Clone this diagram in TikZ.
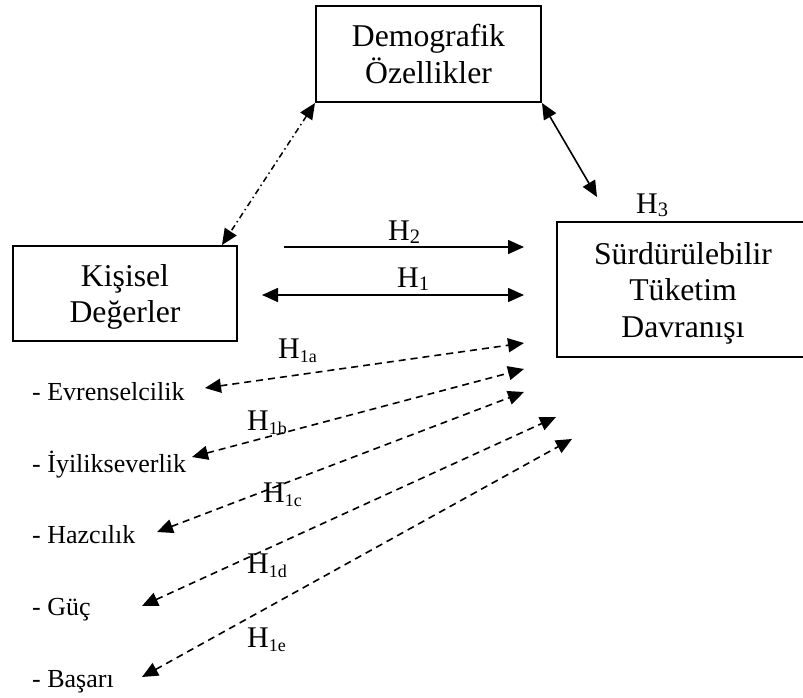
\documentclass[tikz,border=0pt]{standalone}
\usepackage{fontspec}
\setmainfont{Liberation Serif}
\usetikzlibrary{arrows.meta}
\newcommand\myboxfont{\fontsize{31.7}{36.5}\selectfont}
\newcommand\myhfont{\fontsize{30}{34}\selectfont}
\newcommand\myitemfont{\fontsize{26}{30}\selectfont}
\newcommand\Hbig[1]{H\raisebox{-3pt}{\fontsize{20.5}{20.5}\selectfont #1}}
\newcommand\Hsmall[1]{H\raisebox{-4pt}{\fontsize{18}{18}\selectfont #1}}
\begin{document}
\begin{tikzpicture}[x=1pt,y=-1pt,
  box/.style={draw, line width=1.7pt, font=\myboxfont, align=center, text depth=0pt, inner sep=0pt},
  lbl/.style={font=\myhfont, anchor=base west, inner sep=0pt},
  item/.style={font=\myitemfont, anchor=base west, inner sep=0pt},
  conn/.style={line width=1.6pt},
  tip/.style={-{Triangle[length=16pt,width=14pt]}},
  tips/.style={{Triangle[length=16pt,width=14pt]}-{Triangle[length=16pt,width=14pt]}},
  dsh/.style={dash pattern=on 7pt off 5pt},
  dshdot/.style={line width=1.5pt, dash pattern=on 6pt off 3.5pt on 1.5pt off 3.5pt}]
\clip (0,0) rectangle (803,698);
\fill[white] (0,0) rectangle (803,698);

% boxes
\node[box, minimum width=225pt, minimum height=96pt] (demo) at (428.5,54) {Demografik\\Özellikler};
\node[box, minimum width=224pt, minimum height=95pt] (kis) at (125,293.5) {Kişisel\\Değerler};
\node[box, minimum width=252pt, minimum height=135pt] (surd) at (683,289.5) {Sürdürülebilir\\Tüketim\\Davranışı};

% free ends
\coordinate (dK) at (222,245);
\coordinate (dD) at (315,103);
\coordinate (sD) at (542,103);
\coordinate (sS) at (597,197);
\coordinate (h2a) at (284,247);
\coordinate (h2b) at (524,247);
\coordinate (h1a) at (262,295);
\coordinate (h1b) at (524,295);
\coordinate (aL) at (205,388);
\coordinate (aR) at (524,343);
\coordinate (bL) at (192,457);
\coordinate (bR) at (524,369);
\coordinate (cL) at (157,532);
\coordinate (cR) at (524,392);
\coordinate (dL) at (142,606);
\coordinate (dR) at (556,417);
\coordinate (eL) at (142,677);
\coordinate (eR) at (572,439);

% connectors
\draw[dshdot, tips] (dD) -- (dK);
\draw[conn, tips] (sD) -- (sS);
\draw[conn, tip] (h2a) -- (h2b);
\draw[conn, tips] (h1a) -- (h1b);
\draw[conn, dsh, tips] (aL) -- (aR);
\draw[conn, dsh, tips] (bL) -- (bR);
\draw[conn, dsh, tips] (cL) -- (cR);
\draw[conn, dsh, tips] (dL) -- (dR);
\draw[conn, dsh, tips] (eL) -- (eR);

% labels
\node[lbl] (lH2) at (388,240) {\Hbig{2}};
\node[lbl] (lH1) at (397,287) {\Hbig{1}};
\node[lbl] (lH3) at (636,213) {\Hbig{3}};
\node[lbl] (lH1a) at (278,358) {\Hsmall{1a}};
\node[lbl] (lH1b) at (247,430) {\Hsmall{1b}};
\node[lbl] (lH1c) at (263,502) {\Hsmall{1c}};
\node[lbl] (lH1d) at (247,573) {\Hsmall{1d}};
\node[lbl] (lH1e) at (247,647) {\Hsmall{1e}};

% list items
\node[item] (i1) at (32,400) {- Evrenselcilik};
\node[item] (i2) at (32,472) {- İyilikseverlik};
\node[item] (i3) at (32,543) {- Hazcılık};
\node[item] (i4) at (32,615) {- Güç};
\node[item] (i5) at (32,687) {- Başarı};
\end{tikzpicture}
\end{document}
